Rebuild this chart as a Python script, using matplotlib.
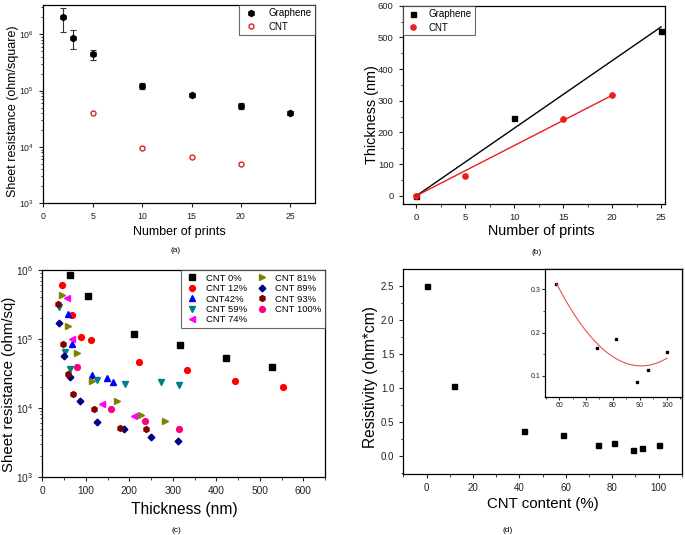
import numpy as np
import matplotlib
matplotlib.use("Agg")
import matplotlib.pyplot as plt
from matplotlib.ticker import MultipleLocator, LogLocator, NullFormatter

plt.rcParams['font.family'] = ['Liberation Sans', 'DejaVu Sans']
plt.rcParams['axes.linewidth'] = 0.9
plt.rcParams['mathtext.default'] = 'regular'

# ---------------- data ----------------
# (a) sheet resistance vs number of prints
prints_gr = [2, 3, 5, 10, 15, 20, 25]
rs_gr = [2.0e6, 8.7e5, 4.4e5, 1.22e5, 8.4e4, 5.35e4, 4.0e4]
rs_gr_err = [0.9e6, 3.2e5, 0.95e5, 0.15e5, 0.75e4, 0.55e4, 0.35e4]
prints_cnt = [5, 10, 15, 20]
rs_cnt = [3.96e4, 9.6e3, 6.64e3, 5.06e3]

# (b) thickness vs number of prints
prints_b_gr = [0, 10, 25]
thick_gr = [0, 246, 520]
prints_b_cnt = [0, 5, 15, 20]
thick_cnt = [0, 63, 242, 318]

# (c) sheet resistance vs thickness for CNT contents
c_labels = ['CNT 0%', 'CNT 12%', 'CNT42%', 'CNT 59%', 'CNT 74%',
            'CNT 81%', 'CNT 89%', 'CNT 93%', 'CNT 100%']
c_x = [
    [64, 105, 211, 317, 423, 528],
    [45, 68, 90, 111, 222, 333, 444, 554],
    [58, 69, 115, 149, 162],
    [39, 52, 63, 125, 190, 273, 315],
    [56, 69, 138, 210],
    [46, 59, 80, 115, 171, 228, 283],
    [39, 51, 63, 87, 126, 187, 250, 311],
    [36, 48, 60, 71, 120, 179, 238],
    [80, 159, 236, 315],
]
c_y = [
    [8.4e5, 4.2e5, 1.19e5, 8.15e4, 5.22e4, 3.95e4],
    [6.1e5, 2.2e5, 1.07e5, 9.5e4, 4.6e4, 3.55e4, 2.45e4, 2.0e4],
    [2.32e5, 8.4e4, 3.0e4, 2.68e4, 2.4e4],
    [2.9e5, 6.4e4, 3.66e4, 2.53e4, 2.24e4, 2.39e4, 2.14e4],
    [3.96e5, 1.0e5, 1.13e4, 7.7e3],
    [4.4e5, 1.56e5, 6.2e4, 2.45e4, 1.26e4, 7.9e3, 6.5e3],
    [1.72e5, 5.65e4, 2.83e4, 1.26e4, 6.15e3, 4.87e3, 3.77e3, 3.26e3],
    [3.25e5, 8.3e4, 3.06e4, 1.59e4, 9.7e3, 5.15e3, 4.87e3],
    [3.86e4, 9.6e3, 6.5e3, 4.92e3],
]
c_colors = ['#000000', '#ff0000', '#0000ff', '#008080', '#ff00ff',
            '#808000', '#000080', '#800000', '#ff0080']
c_markers = ['s', 'o', '^', 'v', '<', '>', 'D', 'h', 'o']

# (d) resistivity vs CNT content
cnt_content = [0, 12, 42, 59, 74, 81, 89, 93, 100]
resistivity = [2.5, 1.02, 0.37, 0.312, 0.164, 0.186, 0.087, 0.114, 0.156]

# ---------------- figure ----------------
W, H = 685, 535
fig = plt.figure(figsize=(W / 100, H / 100), dpi=100)


def box(l, t, r, b):
    return [l / W, 1 - b / H, (r - l) / W, (b - t) / H]


def style(ax, fs):
    ax.tick_params(which='both', direction='out', top=False, right=False,
                   labelsize=fs, colors='#222222')
    ax.tick_params(which='major', length=3, width=0.8)
    ax.tick_params(which='minor', length=1.8, width=0.6)


def leg_style(lg):
    fr = lg.get_frame()
    fr.set_edgecolor('#444444')
    fr.set_linewidth(0.8)
    fr.set_boxstyle('square', pad=0)


# ---- (a)
axA = fig.add_axes(box(43.3, 5, 315, 203.3))
axA.errorbar(prints_gr, rs_gr, yerr=rs_gr_err, fmt='none',
             ecolor='#333333', elinewidth=0.8, capsize=2.2, capthick=0.8)
hG, = axA.plot(prints_gr, rs_gr, 'h', color='black', ms=4.4, ls='none',
               label='Graphene')
hC, = axA.plot(prints_cnt, rs_cnt, 'o', mfc='white', mec='#e02020', mew=1.0,
               ms=3.6, ls='none', label='CNT')
axA.set_yscale('log')
axA.set_ylim(1e3, 3.3e6)
axA.set_xlim(0, 27.5)
axA.xaxis.set_major_locator(MultipleLocator(5))
axA.yaxis.set_major_locator(LogLocator(base=10, numticks=10))
axA.yaxis.set_minor_locator(LogLocator(base=10, subs=np.arange(2, 10), numticks=20))
axA.yaxis.set_minor_formatter(NullFormatter())
style(axA, 6.3)
axA.set_xlabel('Number of prints', fontsize=9)
axA.set_ylabel('Sheet resistance (ohm/square)', fontsize=9)
axA.xaxis.set_label_coords(0.5, -0.145)
axA.xaxis.label.set_va('center')
axA.yaxis.set_label_coords(-0.113, 0.466)
axA.yaxis.label.set_va('center')
lgA = axA.legend(handles=[hG, hC], loc='upper right', fontsize=7, frameon=True,
                 borderaxespad=0.05, handletextpad=0.9, borderpad=0.3,
                 labelspacing=0.35, handlelength=1.8, fancybox=False)
leg_style(lgA)
fig.text(176 / W, 1 - 250 / H, '(a)', fontsize=6, ha='center', va='center')

# ---- (b)
axB = fig.add_axes(box(402.7, 5.7, 665, 204))
axB.plot(prints_b_gr, thick_gr, 's', color='black', ms=3.6, ls='none', label='Graphene')
axB.plot(prints_b_cnt, thick_cnt, 'o', color='#ee1c1c', ms=3.8, ls='none', label='CNT')
xg = np.array(prints_b_gr, float); yg = np.array(thick_gr, float)
kg = (xg * yg).sum() / (xg * xg).sum()
xc = np.array(prints_b_cnt, float); yc = np.array(thick_cnt, float)
kc = (xc * yc).sum() / (xc * xc).sum()
axB.plot([0, max(prints_b_gr)], [0, kg * max(prints_b_gr)], color='black', lw=1.0)
axB.plot([0, max(prints_b_cnt)], [0, kc * max(prints_b_cnt)], color='#ee1c1c', lw=1.0)
axB.set_xlim(-1.4, 25.4)
axB.set_ylim(-26, 600)
axB.xaxis.set_major_locator(MultipleLocator(5))
axB.xaxis.set_minor_locator(MultipleLocator(2.5))
axB.yaxis.set_major_locator(MultipleLocator(100))
axB.yaxis.set_minor_locator(MultipleLocator(50))
style(axB, 6.8)
axB.set_xlabel('Number of prints', fontsize=10.4)
axB.set_ylabel('Thickness (nm)', fontsize=10.4)
axB.xaxis.set_label_coords(0.527, -0.135)
axB.xaxis.label.set_va('center')
axB.yaxis.set_label_coords(-0.118, 0.449)
axB.yaxis.label.set_va('center')
lgB = axB.legend(loc='upper left', fontsize=7, frameon=True, borderaxespad=0.05,
                 handletextpad=0.9, borderpad=0.3, labelspacing=0.35,
                 handlelength=1.4, fancybox=False)
leg_style(lgB)
fig.text(536.7 / W, 1 - 253 / H, '(b)', fontsize=6, ha='center', va='center')

# ---- (c)
axC = fig.add_axes(box(42.3, 270, 325, 476.7))
for xs, ys, lab, col, mk in zip(c_x, c_y, c_labels, c_colors, c_markers):
    ms = 4.2 if mk != 'D' else 3.4
    axC.plot(xs, ys, mk, color=col, ms=ms, ls='none', label=lab)
axC.set_yscale('log')
axC.set_ylim(1e3, 1e6)
axC.set_xlim(0, 650)
axC.xaxis.set_major_locator(MultipleLocator(100))
axC.xaxis.set_minor_locator(MultipleLocator(50))
axC.yaxis.set_major_locator(LogLocator(base=10, numticks=10))
axC.yaxis.set_minor_locator(LogLocator(base=10, subs=np.arange(2, 10), numticks=20))
axC.yaxis.set_minor_formatter(NullFormatter())
style(axC, 7.3)
axC.set_xlabel('Thickness (nm)', fontsize=11.2)
axC.set_ylabel('Sheet resistance (ohm/sq)', fontsize=10.8)
axC.xaxis.set_label_coords(0.503, -0.158)
axC.xaxis.label.set_va('center')
axC.yaxis.set_label_coords(-0.117, 0.4475)
axC.yaxis.label.set_va('center')
lgC = axC.legend(loc='upper right', ncol=2, fontsize=6.8, frameon=True,
                 borderaxespad=0.05, handletextpad=0.6, borderpad=0.35,
                 labelspacing=0.15, columnspacing=0.8, handlelength=1.6,
                 fancybox=False)
leg_style(lgC)
fig.text(176.7 / W, 1 - 530 / H, '(c)', fontsize=6, ha='center', va='center')

# ---- (d)
axD = fig.add_axes(box(403.3, 269, 681.7, 474.3))
axD.plot(cnt_content, resistivity, 's', color='black', ms=3.6, ls='none')
axD.set_xlim(-10, 110)
axD.set_ylim(-0.27, 2.745)
axD.xaxis.set_major_locator(MultipleLocator(20))
axD.xaxis.set_minor_locator(MultipleLocator(10))
axD.yaxis.set_major_locator(MultipleLocator(0.5))
axD.yaxis.set_minor_locator(MultipleLocator(0.25))
style(axD, 7)
axD.set_xlabel('CNT content (%)', fontsize=10.8)
axD.set_ylabel('Resistivity (ohm*cm)', fontsize=11.2)
axD.xaxis.set_label_coords(0.5, -0.1447)
axD.xaxis.label.set_va('center')
axD.yaxis.set_label_coords(-0.1196, 0.4715)
axD.yaxis.label.set_va('center')
fig.text(508 / W, 1 - 530 / H, '(d)', fontsize=6, ha='center', va='center')

# inset
axI = fig.add_axes(box(545, 269, 681.7, 396.7))
xin = np.array(cnt_content[3:], float)
yin = np.array(resistivity[3:], float)
axI.plot(xin, yin, 's', color='black', ms=1.8, ls='none')
coef = np.polyfit(xin, yin, 2)
xx = np.linspace(xin.min(), xin.max(), 200)
axI.plot(xx, np.polyval(coef, xx), color='#e85050', lw=0.8)
axI.set_xlim(54.8, 105.5)
axI.set_ylim(0.052, 0.347)
axI.xaxis.set_major_locator(MultipleLocator(10))
axI.xaxis.set_minor_locator(MultipleLocator(5))
axI.yaxis.set_major_locator(MultipleLocator(0.1))
axI.yaxis.set_minor_locator(MultipleLocator(0.05))
style(axI, 5)
axI.tick_params(which='major', length=2, pad=1.5)
axI.tick_params(which='minor', length=1.2)

fig.savefig('out.png', dpi=100)
